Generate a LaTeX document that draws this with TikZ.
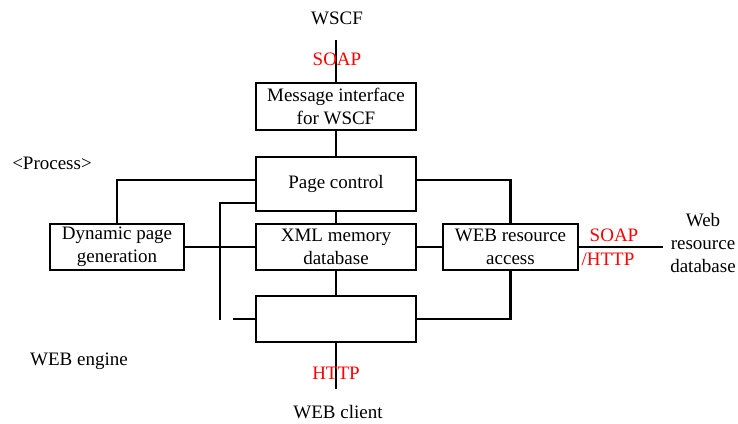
\documentclass[tikz,border=0pt]{standalone}
\usepackage{fontspec}
\setmainfont{Liberation Serif}
\usetikzlibrary{positioning}

\begin{document}
\begin{tikzpicture}[x=1pt,y=-1pt,line width=2.6pt,
    font=\fontsize{19}{23}\selectfont,
    box/.style={draw,rectangle,align=center,inner sep=0pt},
    proto/.style={text=red}]
    \useasboundingbox (0,0) rectangle (738,423);

    \node[box,minimum width=160,minimum height=47] (msg) at (336,106.5) {Message interface\\for WSCF};
    \node[box,minimum width=160,minimum height=54] (ctrl) at (336,184) {Page control};
    \node[box,minimum width=160,minimum height=46] (xmldb) at (336,247) {XML memory\\database};
    \node[box,minimum width=160,minimum height=46] (out) at (336,319) {};
    \node[box,minimum width=134,minimum height=46] (dyn) at (117,247) {Dynamic page\\generation};
    \node[box,minimum width=135,minimum height=46] (wra) at (510.5,247) {WEB resource\\access};

    \coordinate (top) at (336,40);
    \coordinate (bot) at (336,389);
    \coordinate (ext) at (663,247);
    \coordinate (bus) at (220,320);
    \coordinate (stub) at (233,319);

    \draw (top) -- (msg);
    \draw (msg) -- (ctrl) -- (xmldb) -- (out) -- (bot);
    \draw (ctrl.west |- 0,180) -| (dyn.north);
    \draw (dyn) -- (xmldb) -- (wra) -- (ext);
    \draw (bus) |- (ctrl.west |- 0,203);
    \draw (stub) -- (out.west);
    \draw (ctrl.east |- 0,180) -| (wra.north);
    \draw (wra.south) |- (out.east);

    \node (wscf) at (337,18) {WSCF};
    \node[proto] (soap1) at (337,59) {SOAP};
    \node[proto] (http1) at (336,373) {HTTP};
    \node (client) at (338,412) {WEB client};
    \node (proc) at (52,163) {<Process>};
    \node (engine) at (79,361) {WEB engine};
    \node[proto] (soap2) at (614,235) {SOAP};
    \node[proto] (http2) at (608,259) {/HTTP};
    \node[align=center] (wrdb) at (703,243) {Web\\resource\\database};
\end{tikzpicture}
\end{document}
